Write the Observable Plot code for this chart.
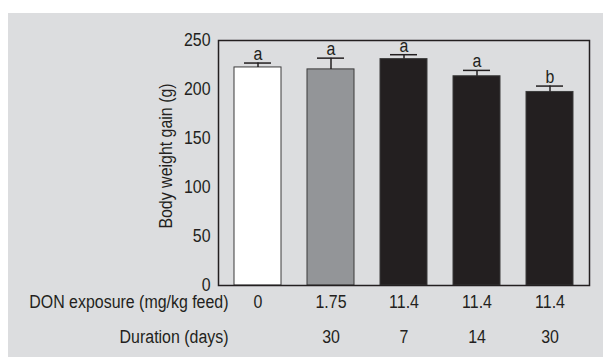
<!DOCTYPE html>
<html>
<head>
<meta charset="utf-8">
<script src="https://cdn.jsdelivr.net/npm/d3@7"></script>
<script src="https://cdn.jsdelivr.net/npm/@observablehq/plot@0.6"></script>
<style>
  html, body { margin: 0; padding: 0; background: #ffffff; }
  #panel { position: absolute; left: 8px; top: 13px; width: 595px; height: 344px; background: #dcdddf; }
  #panel svg { display: block; }
</style>
</head>
<body>
<div id="panel"></div>
<script>
// ---- data ----
const groups    = ["Control", "1.75 mg/kg, 30 d", "11.4 mg/kg, 7 d", "11.4 mg/kg, 14 d", "11.4 mg/kg, 30 d"];
const donLabels = ["0", "1.75", "11.4", "11.4", "11.4"];
const durLabels = ["", "30", "7", "14", "30"];
const gain      = [222.5, 220.5, 231, 213.5, 197.5];
const sem       = [4.5, 11.5, 4.5, 6, 6];
const letters   = ["a", "a", "a", "a", "b"];
const yTicks    = [0, 50, 100, 150, 200, 250];

const rows = groups.map((g, i) => ({
  group: g, don: donLabels[i], dur: durLabels[i],
  gain: gain[i], top: gain[i] + sem[i], letter: letters[i]
}));
const durRows = rows.filter(d => d.dur !== "");

const font = "'Liberation Sans', Arial, sans-serif";
const ink = "#231f20";

const chart = Plot.plot({
  width: 595,
  height: 344,
  marginLeft: 210,
  marginRight: 14,
  marginTop: 27,
  marginBottom: 72,
  style: { fontFamily: font, fontSize: "18px", color: ink, background: "transparent" },
  x: { domain: groups, paddingInner: 0.35, paddingOuter: 0.19, axis: null },
  y: { domain: [0, 250], ticks: yTicks, tickSize: 0, tickPadding: 8, label: null },
  color: { domain: groups, range: ["#ffffff", "#939598", ink, ink, ink] },
  marks: [
    Plot.barY(rows, { x: "group", y: "gain", fill: "group", stroke: "#3a3a3a", strokeWidth: 1 }),
    Plot.ruleX(rows, { x: "group", y1: "gain", y2: "top", stroke: ink, strokeWidth: 1.5 }),
    Plot.tickY(rows, { x: "group", y: "top", stroke: ink, strokeWidth: 1.5, insetLeft: 10, insetRight: 10 }),
    Plot.text(rows, { x: "group", y: "top", text: "letter", lineAnchor: "bottom", dy: -3, fill: ink, fontSize: 18 }),
    Plot.frame({ stroke: ink, strokeWidth: 1.5 }),
    Plot.text(["Body weight gain (g)"], { text: d => d, frameAnchor: "left", textAnchor: "middle", lineAnchor: "middle", rotate: -90, dx: -52, dy: -7, fill: ink, fontSize: 18 }),
    Plot.text(rows, { x: "group", text: "don", frameAnchor: "bottom", dy: 22, fill: ink, fontSize: 18 }),
    Plot.text(durRows, { x: "group", text: "dur", frameAnchor: "bottom", dy: 57, fill: ink, fontSize: 18 }),
    Plot.text(["DON exposure (mg/kg feed)"], { text: d => d, frameAnchor: "bottom-left", textAnchor: "end", dx: 10, dy: 22, fill: ink, fontSize: 18 }),
    Plot.text(["Duration (days)"], { text: d => d, frameAnchor: "bottom-left", textAnchor: "end", dx: 10, dy: 57, fill: ink, fontSize: 18 })
  ]
});
document.getElementById("panel").appendChild(chart);

// condensed look of the original typeface: squeeze glyphs horizontally
chart.querySelectorAll("text").forEach(t => {
  const L = t.getComputedTextLength();
  if (L > 0) {
    t.setAttribute("textLength", (L * 0.885).toFixed(2));
    t.setAttribute("lengthAdjust", "spacingAndGlyphs");
  }
});
</script>
</body>
</html>
